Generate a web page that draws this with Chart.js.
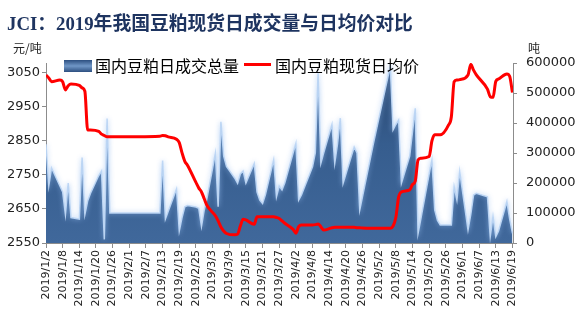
<!DOCTYPE html>
<html>
<head>
<meta charset="utf-8">
<script src="https://cdn.jsdelivr.net/npm/chart.js@4.4.1/dist/chart.umd.min.js"></script>
<style>
  html, body { margin: 0; padding: 0; background: #fff; }
  #wrap { position: relative; width: 584px; height: 320px; }
  #graph { position: absolute; left: 0; top: 0; }
  .txt { position: absolute; white-space: nowrap; }
  #title { left: 7px; top: 10px; font: bold 18.8px "Liberation Serif", "Noto Sans CJK SC", serif; color: #1e3460; line-height: 28px; }
  .unit { font: 12px "Noto Sans CJK SC", sans-serif; color: #222; top: 40px; line-height: 16px; }
  .leg { font: 16px "Noto Sans CJK SC", sans-serif; color: #000; top: 55px; line-height: 20px; }
  #swBar { position: absolute; left: 64px; top: 60px; width: 28px; height: 12px;
           background: linear-gradient(#2c4f80, #7097c7 50%, #2c4f80); }
  #swLine { position: absolute; left: 244px; top: 63px; width: 27px; height: 3px; background: #ff0000; }
</style>
</head>
<body>
<div id="wrap">
  <canvas id="graph" width="584" height="320"></canvas>
  <div class="txt" id="title">JCI：2019年我国豆粕现货日成交量与日均价对比</div>
  <div class="txt unit" style="left:13px">元/吨</div>
  <div class="txt unit" style="left:528px">吨</div>
  <div id="swBar"></div>
  <div class="txt leg" style="left:95px">国内豆粕日成交总量</div>
  <div id="swLine"></div>
  <div class="txt leg" style="left:275px">国内豆粕现货日均价</div>
</div>
<script>
// date (2019), daily volume (tons), daily average price (yuan/ton)
const dates = [
  '1/2','1/3','1/4','1/7','1/8','1/9','1/10','1/11','1/14','1/15','1/16','1/17','1/18','1/21','1/22','1/23','1/24','1/25',
  '2/12','2/13','2/14','2/15','2/18','2/19','2/20','2/21','2/22','2/25','2/26','2/27','2/28',
  '3/1','3/4','3/5','3/6','3/7','3/8','3/11','3/12','3/13','3/14','3/15','3/18','3/19','3/20','3/21','3/22','3/25','3/26','3/27','3/28','3/29',
  '4/1','4/2','4/3','4/4','4/8','4/9','4/10','4/11','4/12','4/15','4/16','4/17','4/18','4/19','4/22','4/23','4/24','4/25','4/26','4/29','4/30',
  '5/6','5/7','5/8','5/9','5/10','5/13','5/14','5/15','5/16','5/17','5/20','5/21','5/22','5/23','5/24','5/27','5/28','5/29','5/30','5/31',
  '6/3','6/4','6/5','6/6','6/10','6/11','6/12','6/13','6/14','6/17','6/18','6/19'
];

const volume = [
  329000,190000,250000,190000,170000,95000,200000,85000,80000,285000,95000,140000,165000,225000,240000,12000,415000,100000,
  100000,275000,80000,105000,180000,40000,85000,121000,125000,120000,116000,55000,110000,
  150000,299000,121000,404000,290000,255000,216000,199000,230000,240000,200000,265000,170000,143000,132000,160000,277000,154000,190000,177000,200000,
  300000,332000,143000,160000,254000,300000,566000,266000,300000,395000,266000,330000,416000,199000,290000,320000,300000,110000,155000,290000,335000,
  590000,377000,395000,410000,199000,290000,370000,449000,32000,80000,230000,277000,110000,75000,60000,60000,60000,188000,143000,238000,
  43000,95000,160000,166000,154000,21000,88000,21000,40000,138000,80000,32000
];

const price = [
  3044,3035,3024,3029,3024,3000,3012,3017,3013,3006,2996,2882,2882,2878,2870,2866,2862,2862,
  2864,2866,2865,2862,2855,2845,2815,2790,2778,2728,2712,2700,2680,
  2660,2630,2615,2597,2585,2578,2574,2576,2600,2620,2618,2605,2627,2627,2627,2627,2627,2625,2622,2615,2608,
  2590,2579,2598,2603,2603,2604,2606,2598,2588,2595,2596,2596,2596,2596,2596,2596,2595,2595,2594,2593,2593,
  2593,2600,2625,2685,2700,2706,2722,2732,2794,2799,2804,2850,2868,2868,2868,2897,2921,3024,3029,3030,
  3044,3075,3058,3044,3002,2980,2978,3025,3032,3047,3040,2992
];

const tickLabels = [
  '2019/1/2','2019/1/8','2019/1/14','2019/1/20','2019/1/26','2019/2/1','2019/2/7','2019/2/13','2019/2/19','2019/2/25',
  '2019/3/3','2019/3/9','2019/3/15','2019/3/21','2019/3/27','2019/4/2','2019/4/8','2019/4/14','2019/4/20','2019/4/26',
  '2019/5/2','2019/5/8','2019/5/14','2019/5/20','2019/5/26','2019/6/1','2019/6/7','2019/6/13','2019/6/19'
];
const priceTicks = [2550, 2650, 2750, 2850, 2950, 3050];
const volumeTicks = [0, 100000, 200000, 300000, 400000, 500000, 600000];

// days since 2019/1/2
function dayOf(s) {
  const p = s.split('/').map(Number);
  const m = p.length === 3 ? p[1] : p[0];
  const d = p.length === 3 ? p[2] : p[1];
  return (Date.UTC(2019, m - 1, d) - Date.UTC(2019, 0, 2)) / 86400000;
}

const volPoints = dates.map((d, i) => ({ x: dayOf(d), y: volume[i] }));
const pricePoints = dates.map((d, i) => ({ x: dayOf(d), y: price[i] }));
const tickDays = tickLabels.map(dayOf);

const tickFont = { family: 'DejaVu Sans', size: 13 };
const axisGrid = { drawOnChartArea: false, drawTicks: true, tickLength: 4, color: '#8c8c8c' };

// light blue glow around the volume area
const glow = {
  id: 'glow',
  beforeDatasetDraw(chart, args) {
    if (args.index !== 1) return;
    chart.ctx.save();
    chart.ctx.shadowColor = 'rgba(150,190,240,0.9)';
    chart.ctx.shadowBlur = 5;
  },
  afterDatasetDraw(chart, args) {
    if (args.index !== 1) return;
    chart.ctx.restore();
  }
};

const graph = document.getElementById('graph').getContext('2d');
new Chart(graph, {
  type: 'line',
  data: {
    datasets: [
      {
        label: '国内豆粕现货日均价',
        data: pricePoints,
        yAxisID: 'y',
        borderColor: '#ff0000',
        borderWidth: 3,
        pointRadius: 0,
        cubicInterpolationMode: 'monotone',
        fill: false,
        order: 0
      },
      {
        label: '国内豆粕日成交总量',
        data: volPoints,
        yAxisID: 'y1',
        borderColor: 'rgba(190,215,245,0.95)',
        borderWidth: 1.5,
        pointRadius: 0,
        tension: 0,
        fill: 'start',
        backgroundColor: function(ctx) {
          const area = ctx.chart.chartArea;
          if (!area) return '#3d6597';
          const g = ctx.chart.ctx.createLinearGradient(0, area.top, 0, area.bottom);
          g.addColorStop(0, '#28466f');
          g.addColorStop(0.45, '#365d8e');
          g.addColorStop(1, '#40689b');
          return g;
        },
        order: 1
      }
    ]
  },
  options: {
    responsive: false,
    animation: false,
    layout: { padding: { top: 63, left: 0, right: 0, bottom: 0 } },
    plugins: { legend: { display: false }, tooltip: { enabled: false }, title: { display: false } },
    scales: {
      x: {
        type: 'linear',
        min: 0,
        max: 168.2,
        grid: { drawOnChartArea: false, drawTicks: true, tickLength: 5, color: '#8c8c8c' },
        border: { display: true, color: '#8c8c8c' },
        afterBuildTicks: s => { s.ticks = tickDays.map(v => ({ value: v })); },
        afterFit: s => { s.height = 77; },
        ticks: {
          autoSkip: false,
          minRotation: 90,
          maxRotation: 90,
          padding: 2,
          color: '#222',
          font: { family: 'DejaVu Sans', size: 11 },
          callback: (v, i) => tickLabels[i]
        }
      },
      y: {
        position: 'left',
        min: 2550,
        max: 3079,
        grid: axisGrid,
        border: { display: true, color: '#8c8c8c' },
        afterBuildTicks: s => { s.ticks = priceTicks.map(v => ({ value: v })); },
        afterFit: s => { s.width = 46; },
        ticks: { color: '#222', font: tickFont, padding: 2, callback: v => v }
      },
      y1: {
        position: 'right',
        min: 0,
        max: 600000,
        grid: axisGrid,
        border: { display: true, color: '#8c8c8c' },
        afterBuildTicks: s => { s.ticks = volumeTicks.map(v => ({ value: v })); },
        afterFit: s => { s.width = 71; },
        ticks: { color: '#222', font: tickFont, padding: 9, callback: v => v }
      }
    }
  },
  plugins: [glow]
});
</script>
</body>
</html>
